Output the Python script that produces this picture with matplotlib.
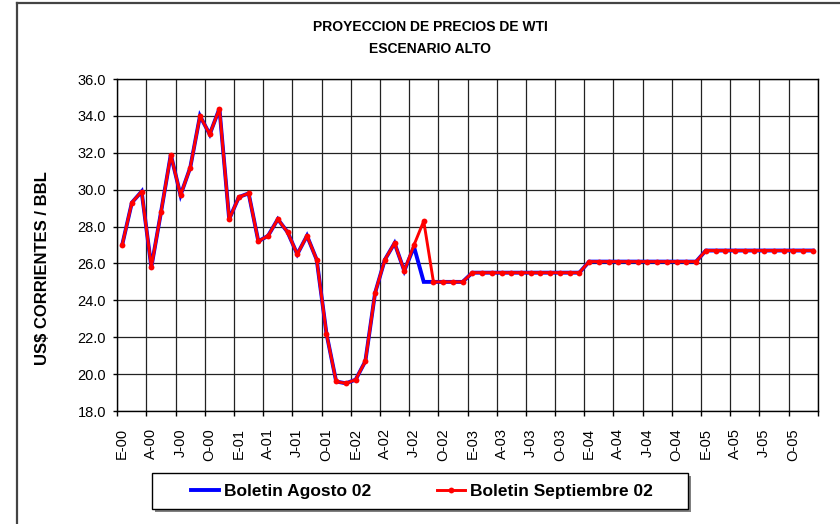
import matplotlib
matplotlib.use("Agg")
import matplotlib.pyplot as plt
from matplotlib.lines import Line2D
from matplotlib.patches import Rectangle
import numpy as np

plt.rcParams['font.family'] = ['Liberation Sans', 'DejaVu Sans']

# Monthly data Jan-2000 .. Dec-2005
years = ['00', '01', '02', '03', '04', '05']
month_letters = ['E', 'F', 'M', 'A', 'M', 'J', 'J', 'A', 'S', 'O', 'N', 'D']
months = [f"{m}-{y}" for y in years for m in month_letters]

septiembre_02 = [27.0, 29.3, 29.9, 25.8, 28.8, 31.9, 29.7, 31.2, 34.0, 33.0, 34.4, 28.4,
                 29.6, 29.8, 27.2, 27.5, 28.4, 27.7, 26.5, 27.5, 26.2, 22.2, 19.6, 19.5,
                 19.7, 20.7, 24.4, 26.2, 27.1, 25.6, 27.0, 28.3, 25.0, 25.0, 25.0, 25.0,
                 25.5, 25.5, 25.5, 25.5, 25.5, 25.5, 25.5, 25.5, 25.5, 25.5, 25.5, 25.5,
                 26.1, 26.1, 26.1, 26.1, 26.1, 26.1, 26.1, 26.1, 26.1, 26.1, 26.1, 26.1,
                 26.7, 26.7, 26.7, 26.7, 26.7, 26.7, 26.7, 26.7, 26.7, 26.7, 26.7, 26.7]
agosto_02 = [27.0, 29.3, 29.9, 25.8, 28.8, 31.9, 29.7, 31.2, 34.0, 33.0, 34.4, 28.4,
             29.6, 29.8, 27.2, 27.5, 28.4, 27.7, 26.5, 27.5, 26.2, 22.2, 19.6, 19.5,
             19.7, 20.7, 24.4, 26.2, 27.1, 25.6, 26.9, 25.0, 25.0, 25.0, 25.0, 25.0,
             25.5, 25.5, 25.5, 25.5, 25.5, 25.5, 25.5, 25.5, 25.5, 25.5, 25.5, 25.5,
             26.1, 26.1, 26.1, 26.1, 26.1, 26.1, 26.1, 26.1, 26.1, 26.1, 26.1, 26.1,
             26.7, 26.7, 26.7, 26.7, 26.7, 26.7, 26.7, 26.7, 26.7, 26.7, 26.7, 26.7]
y_ticks = [18.0, 20.0, 22.0, 24.0, 26.0, 28.0, 30.0, 32.0, 34.0, 36.0]

W, H = 840, 524
fig = plt.figure(figsize=(W / 100, H / 100), dpi=100)

L, R, T, B = 117.3, 817.7, 79, 411
ax = fig.add_axes([L / W, 1 - B / H, (R - L) / W, (B - T) / H])

x = np.arange(len(months))
ax.plot(x, agosto_02, color='#0000FF', lw=2.8, solid_joinstyle='miter', zorder=3,
        label='Boletin Agosto 02')
ax.plot(x, septiembre_02, color='#FF0000', lw=2.1, marker='o', ms=4.2,
        markeredgewidth=0, zorder=4, label='Boletin Septiembre 02')

ax.set_xlim(-0.5, len(months) - 0.5)
ax.set_ylim(18, 36)
ax.set_yticks(y_ticks)
ax.set_yticklabels([f"{v:.1f}" for v in y_ticks])

major = np.arange(-0.5, len(months), 3)
ax.set_xticks(major)
ax.set_xticklabels([])
minor = np.arange(0, len(months), 3)
ax.set_xticks(minor, minor=True)
ax.set_xticklabels([months[i] for i in minor], minor=True, rotation=90)

ax.tick_params(axis='x', which='major', direction='out', length=3.6, width=1, color='black')
ax.tick_params(axis='x', which='minor', length=0, pad=12.5, labelsize=10.5)
ax.tick_params(axis='y', direction='out', length=3, width=1, pad=5, labelsize=10.5)

ax.grid(True, which='major', color='#222222', lw=0.9)
ax.set_axisbelow(True)
for s in ax.spines.values():
    s.set_color('black')
    s.set_linewidth(1)

# Titles and axis label
fig.text(430 / W, 1 - 27 / H, 'PROYECCION DE PRECIOS DE WTI', ha='center', va='center',
         fontsize=10, fontweight='bold')
fig.text(430 / W, 1 - 49 / H, 'ESCENARIO ALTO', ha='center', va='center',
         fontsize=10, fontweight='bold')
fig.text(43 / W, 1 - 268 / H, 'US$ CORRIENTES / BBL', ha='center', va='center',
         rotation=90, fontsize=12, fontweight='bold')

# Outer chart frame (top and left visible)
fig.add_artist(Line2D([17 / W, 1.0], [1 - 3 / H, 1 - 3 / H], transform=fig.transFigure,
                      color='#444444', lw=1.6))
fig.add_artist(Line2D([17 / W, 17 / W], [1 - 3 / H, 0.0], transform=fig.transFigure,
                      color='#444444', lw=1.6))

# Legend box with shadow
bx0, bx1, by0, by1 = 152, 688, 473, 509
fig.add_artist(Rectangle(((bx0 + 2.5) / W, 1 - (by1 + 2.5) / H), (bx1 - bx0) / W, (by1 - by0) / H,
                         transform=fig.transFigure, facecolor='#808080', edgecolor='none', zorder=1))
fig.add_artist(Rectangle((bx0 / W, 1 - by1 / H), (bx1 - bx0) / W, (by1 - by0) / H,
                         transform=fig.transFigure, facecolor='white', edgecolor='black', lw=1, zorder=2))
leg = fig.legend(loc='center', bbox_to_anchor=(422 / W, 1 - 491 / H), ncol=2, frameon=False,
                 handlelength=1.6, handletextpad=0.3, columnspacing=3.8,
                 prop={'weight': 'bold', 'size': 12.5})
leg.set_zorder(3)

fig.savefig('out.png', dpi=100)
